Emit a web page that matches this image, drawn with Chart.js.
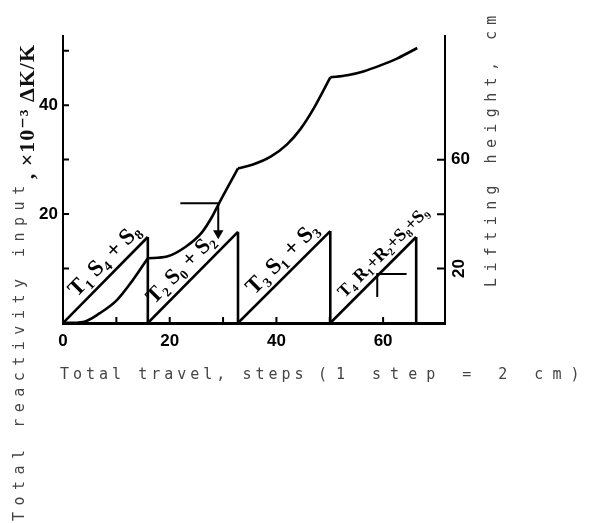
<!DOCTYPE html>
<html><head><meta charset="utf-8">
<script src="https://cdn.jsdelivr.net/npm/chart.js@4.4.1/dist/chart.umd.min.js"></script>
<style>html,body{margin:0;padding:0;background:#fff;} #wrap{width:589px;height:523px;position:relative;}</style>
</head><body><div id="wrap"><canvas id="c"></canvas></div>
<script>
// Total reactivity input (x10^-3 dK/K) vs total travel (steps), one pair per stage
const stage1X = [0, 3.8, 6.9, 10.1, 13.1, 15.9];
const stage1Y = [0, 0.2, 1.8, 4.2, 7.9, 11.9];
const stage2X = [15.9, 19.5, 23.0, 26.0, 28.0, 29.1, 32.8];
const stage2Y = [11.9, 12.2, 14.0, 16.6, 19.6, 21.7, 28.4];
const stage3X = [32.8, 35.6, 39.0, 42.0, 44.5, 47.0, 50.1];
const stage3Y = [28.4, 29.1, 30.6, 32.8, 35.6, 39.4, 45.1];
const stage4X = [50.1, 53.3, 56.3, 59.5, 62.7, 66.4];
const stage4Y = [45.1, 45.5, 46.2, 47.3, 48.6, 50.5];
// Rod group lifting height (cm) vs total travel
const liftX = [0, 15.9, 15.9, 32.8, 32.8, 50.1, 50.1, 66.2, 66.2];
const liftH = [0, 31.6, 0, 33.5, 0, 33.8, 0, 31.6, 0];
const groupLabels = ['T\u2081 S\u2084 + S\u2088', 'T\u2082 S\u2080 + S\u2082', 'T\u2083 S\u2081 + S\u2083', 'T\u2084 R\u2081+R\u2082+S\u2088+S\u2089'];
// Reading guides
const guide1X = [22, 29.1, 29.1];
const guide1Y = [22, 22, 16.5];
const guide2X = [64.4, 58.9, 58.9];
const guide2H = [18, 18, 9.6];
// Ticks
const xLabels = [0, 20, 40, 60];
const xMarks = [10, 20, 30, 40, 50, 60];
const yLabels = [20, 40];
const yMarks = [10, 20, 30, 40, 50];
const y1Labels = [20, 60];
const y1Marks = [20, 40, 60];
const xTitleA = 'Total travel, steps';
const xTitleB = '(1 step = 2 cm)';
const yTitle = 'Total reactivity input';
const yUnit = ', \u00d710\u207b\u00b3 \u0394K/K';
const y1Title = 'Lifting height, cm';

const pts = (xs, ys) => xs.map((v, i) => ({x: v, y: ys[i]}));
const tickFont = {family: '"Liberation Sans Narrow","Liberation Sans",Arial,sans-serif', weight: 'bold', size: 17};
const lineBase = {borderColor: '#000', borderWidth: 2.6, pointRadius: 0, fill: false};

const deco = {
  id: 'deco',
  afterDatasetsDraw(chart) {
    const {ctx, chartArea: a} = chart;
    const sx = chart.scales.x, sy = chart.scales.y, sy1 = chart.scales.y1;
    ctx.save();
    ctx.strokeStyle = '#000'; ctx.lineWidth = 2;
    ctx.beginPath();
    xMarks.forEach(v => { const p = sx.getPixelForValue(v); ctx.moveTo(p, a.bottom); ctx.lineTo(p, a.bottom - 6); });
    yMarks.forEach(v => { const p = sy.getPixelForValue(v); ctx.moveTo(a.left, p); ctx.lineTo(a.left + 6, p); });
    y1Marks.forEach(v => { const p = sy1.getPixelForValue(v); ctx.moveTo(a.right, p); ctx.lineTo(a.right - 8, p); });
    ctx.stroke();
    // rotated right-axis "20"
    ctx.fillStyle = '#000';
    ctx.font = 'bold 17px "Liberation Sans Narrow","Liberation Sans",Arial';
    ctx.textAlign = 'center'; ctx.textBaseline = 'middle';
    ctx.save(); ctx.translate(a.right + 14, sy1.getPixelForValue(20)); ctx.rotate(-Math.PI / 2); ctx.fillText('20', 0, 0); ctx.restore();
    // group labels along each rising segment
    const frac = [0.61, 0.48, 0.59, 0.72];
    const size = [23, 22, 23, 18];
    groupLabels.forEach((t, i) => {
      const x0 = sx.getPixelForValue(liftX[2 * i]), y0 = sy1.getPixelForValue(liftH[2 * i]);
      const x1 = sx.getPixelForValue(liftX[2 * i + 1]), y1 = sy1.getPixelForValue(liftH[2 * i + 1]);
      const ang = Math.atan2(y1 - y0, x1 - x0);
      const cx = x0 + (x1 - x0) * frac[i], cy = y0 + (y1 - y0) * frac[i];
      const off = i === 3 ? 12 : 14;
      ctx.font = 'bold ' + size[i] + 'px "Liberation Serif","DejaVu Serif",serif';
      ctx.save();
      ctx.translate(cx + Math.sin(ang) * off, cy - Math.cos(ang) * off);
      ctx.rotate(ang);
      ctx.fillText(t, 0, 0);
      ctx.restore();
    });
    // axis titles
    ctx.fillStyle = '#444';
    ctx.textAlign = 'left'; ctx.textBaseline = 'middle';
    ctx.font = '15px "DejaVu Sans Mono",monospace';
    ctx.letterSpacing = '4px';
    ctx.fillText(xTitleA, 60, 375);
    ctx.letterSpacing = '9px';
    ctx.fillText(xTitleB, 318, 375);
    ctx.save();
    ctx.translate(20, 521); ctx.rotate(-Math.PI / 2);
    ctx.letterSpacing = '6.5px';
    ctx.fillText(yTitle, 0, 0);
    const w = ctx.measureText(yTitle).width;
    ctx.letterSpacing = '1px';
    ctx.fillStyle = '#111';
    ctx.font = 'bold 22px "Liberation Serif","DejaVu Serif",serif';
    ctx.fillText(yUnit, w, 8);
    ctx.restore();
    ctx.save();
    ctx.fillStyle = '#444';
    ctx.font = '15px "DejaVu Sans Mono",monospace';
    ctx.letterSpacing = '6.4px';
    ctx.translate(492, 287); ctx.rotate(-Math.PI / 2);
    ctx.fillText(y1Title, 0, 0);
    ctx.restore();
    ctx.restore();
  }
};

new Chart(document.getElementById('c'), {
  type: 'line',
  data: {
    datasets: [
      {...lineBase, data: pts(stage1X, stage1Y), yAxisID: 'y', cubicInterpolationMode: 'monotone'},
      {...lineBase, data: pts(stage2X, stage2Y), yAxisID: 'y', cubicInterpolationMode: 'monotone'},
      {...lineBase, data: pts(stage3X, stage3Y), yAxisID: 'y', cubicInterpolationMode: 'monotone'},
      {...lineBase, data: pts(stage4X, stage4Y), yAxisID: 'y', cubicInterpolationMode: 'monotone'},
      {...lineBase, data: pts(liftX, liftH), yAxisID: 'y1', tension: 0,
        segment: {borderDash: c => Math.abs(c.p0.x - c.p1.x) < 0.5 ? [16, 5] : undefined}},
      {...lineBase, borderWidth: 2, data: pts(guide1X, guide1Y), yAxisID: 'y', tension: 0,
        pointRadius: [0, 0, 4], pointStyle: 'triangle', rotation: 180, pointBackgroundColor: '#000', pointBorderColor: '#000'},
      {...lineBase, borderWidth: 2, data: pts(guide2X, guide2H), yAxisID: 'y1', tension: 0}
    ]
  },
  options: {
    responsive: true, maintainAspectRatio: false, animation: false,
    layout: {padding: {top: 36, left: 0, right: 0, bottom: 0}},
    plugins: {legend: {display: false}, tooltip: {enabled: false}},
    scales: {
      x: {type: 'linear', position: 'bottom', min: 0, max: 71.6,
        grid: {display: false, drawTicks: false},
        border: {display: true, color: '#000', width: 3},
        afterBuildTicks: s => { s.ticks = xLabels.map(v => ({value: v})); },
        afterFit: s => { s.height = 200; },
        ticks: {font: tickFont, color: '#000', padding: 8, maxRotation: 0, autoSkip: false}},
      y: {type: 'linear', position: 'left', min: 0, max: 52.7,
        grid: {display: false, drawTicks: false},
        border: {display: true, color: '#000', width: 2},
        afterBuildTicks: s => { s.ticks = yLabels.map(v => ({value: v})); },
        afterFit: s => { s.width = 63; },
        ticks: {font: tickFont, color: '#000', padding: 5}},
      y1: {type: 'linear', position: 'right', min: 0, max: 105.5,
        grid: {display: false, drawTicks: false},
        border: {display: true, color: '#000', width: 2},
        afterBuildTicks: s => { s.ticks = y1Labels.map(v => ({value: v})); },
        afterFit: s => { s.width = 144; },
        ticks: {font: tickFont, color: '#000', padding: 6, callback: v => v === 20 ? '' : v}}
    }
  },
  plugins: [deco]
});
</script></body></html>
